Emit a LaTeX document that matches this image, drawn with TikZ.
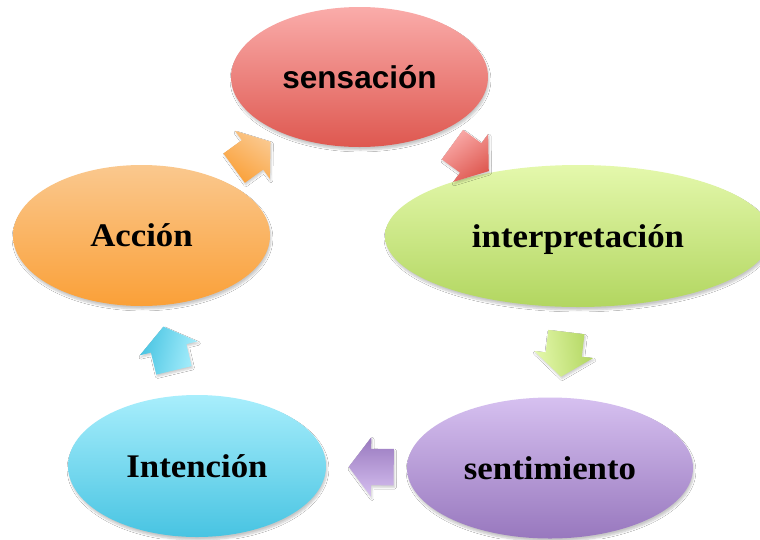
\documentclass[tikz,border=0pt]{standalone}
\usepackage{fontspec}
\setmainfont{Liberation Serif}
\newfontfamily\serifb[FakeStretch=1.055]{Liberation Serif}
\newfontfamily\sansb{Liberation Sans}
\usetikzlibrary{shapes.geometric,shapes.arrows,shadows.blur}
\definecolor{redT}{RGB}{250,172,170}
\definecolor{redB}{RGB}{222,88,80}
\definecolor{grnT}{RGB}{228,248,172}
\definecolor{grnB}{RGB}{178,214,96}
\definecolor{purT}{RGB}{214,192,240}
\definecolor{purB}{RGB}{152,120,190}
\definecolor{cyaT}{RGB}{168,238,252}
\definecolor{cyaB}{RGB}{72,196,226}
\definecolor{orgT}{RGB}{250,200,142}
\definecolor{orgB}{RGB}{250,160,56}
\tikzset{
  cyc/.style={ellipse, inner sep=0pt, text height=22pt, text depth=0pt,
    blur shadow={shadow xshift=1pt, shadow yshift=-3pt, shadow blur steps=6, shadow opacity=22},
    font=\serifb\bfseries\fontsize{33}{36}\selectfont},
  barr/.style={single arrow, inner sep=0pt, text height=18pt, text depth=18pt, text width=0pt,
    minimum height=45pt, minimum width=0pt,
    single arrow head extend=11.5pt, single arrow tip angle=106, single arrow head indent=0pt,
    sloped, allow upside down,
    blur shadow={shadow xshift=1pt, shadow yshift=-2pt, shadow blur steps=4, shadow opacity=20}}
}
\begin{document}
\begin{tikzpicture}[x=1pt,y=-1pt]
\fill[white] (0,0) rectangle (760,539);
\useasboundingbox (0,0) rectangle (760,539);
\node[cyc, minimum width=257pt, minimum height=140pt, top color=redT, bottom color=redB,
  font=\sansb\bfseries\fontsize{31.5}{34}\selectfont] (sens) at (359.5,77) {sensación};
\node[cyc, minimum width=386pt, minimum height=142pt, top color=grnT, bottom color=grnB] (interp) at (578,236) {interpretación};
\node[cyc, minimum width=286pt, minimum height=141pt, top color=purT, bottom color=purB] (sent) at (550,468) {sentimiento};
\node[cyc, minimum width=258pt, minimum height=142pt, top color=cyaT, bottom color=cyaB] (inten) at (197,466) {Intención};
\node[cyc, minimum width=257pt, minimum height=141pt, top color=orgT, bottom color=orgB] (acc) at (141.5,235.5) {Acción};
\path (acc.center) -- (sens.center) node[barr, pos=0.483, top color=orgT, bottom color=orgB, shading angle=-36] (a1) {};
\path (sens.center) -- (interp.center) node[barr, pos=0.483, top color=redT, bottom color=redB, shading angle=36] (a2) {};
\path (interp.center) -- (sent.center) node[barr, pos=0.481, top color=grnT, bottom color=grnB, shading angle=97] (a3) {};
\path (sent.center) -- (inten.center) node[barr, pos=0.487, top color=purT, bottom color=purB, shading angle=-180] (a4) {};
\path (inten.center) -- (acc.center) node[barr, pos=0.481, top color=cyaT, bottom color=cyaB, shading angle=-103.5] (a5) {};
\end{tikzpicture}
\end{document}
